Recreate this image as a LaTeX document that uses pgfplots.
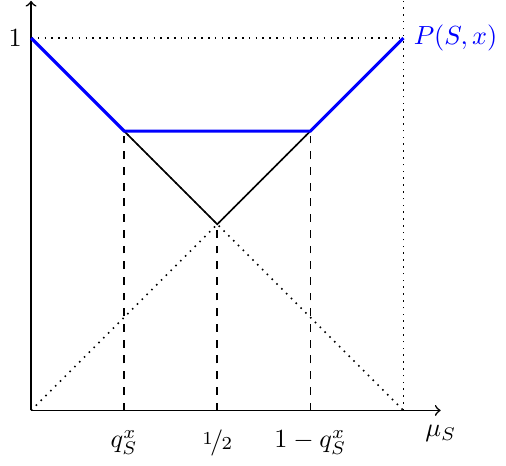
\documentclass[border=0pt]{standalone}
\usepackage{pgfplots}
\pgfplotsset{compat=1.18}
\usepackage{nicefrac}

\begin{document}
\begin{tikzpicture}
\begin{axis}[x=5cm,y=5cm,axis lines=middle,
  xmin=0,xmax=1.1,ymin=0,ymax=1.1,clip=false,
  axis line style={->,semithick},
  major tick length=0pt,
  xtick={0.25,0.5,0.75},xticklabels={$q_S^x$,$\nicefrac{1}{2}$,$1-q_S^x$},
  ytick={1},yticklabels={$1$},
  xticklabel style={yshift=-4pt},
  xlabel={$\mu_S$},
  every axis x label/.style={at={(axis cs:1.1,0)},anchor=north,yshift=-2pt}]
% guide lines
\addplot[dotted,semithick] coordinates {(0,0) (1,1)};
\addplot[dotted,semithick] coordinates {(0,1) (1,0)};
\addplot[dotted,semithick] coordinates {(0,1) (1,1)};
\addplot[dotted,semithick] coordinates {(1,0) (1,1.1)};
\addplot[dashed,semithick] coordinates {(0.25,0) (0.25,0.75)};
\addplot[dashed,semithick] coordinates {(0.5,0) (0.5,0.5)};
\addplot[dashed,semithick] coordinates {(0.75,0) (0.75,0.75)};
% max of the two branches
\addplot[semithick] coordinates {(0.25,0.75) (0.5,0.5) (0.75,0.75)};
\addplot[blue,line width=1.2pt] coordinates {(0,1) (0.25,0.75) (0.75,0.75) (1,1)}
  node[right,blue] {$P(S,x)$};
\end{axis}
\end{tikzpicture}
\end{document}
